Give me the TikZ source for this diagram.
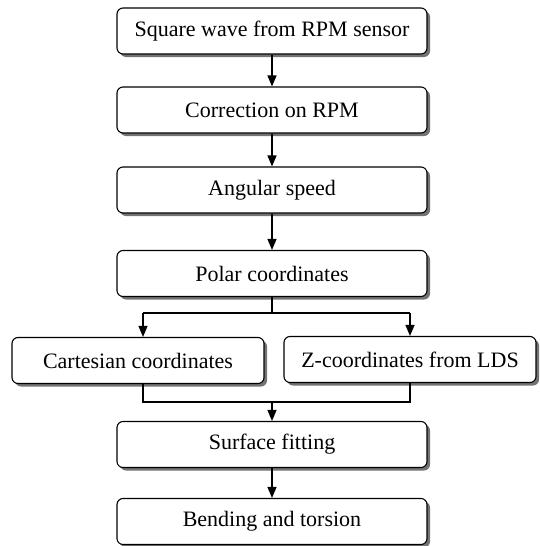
\documentclass[tikz,border=0pt]{standalone}
\usepackage{fontspec}
\setmainfont{Liberation Serif}
\usetikzlibrary{arrows.meta,shadows}
\begin{document}
\begin{tikzpicture}[x=1pt,y=-1pt,
  flowbox/.style={draw=black, line width=1.1pt, rounded corners=6pt, fill=white,
    minimum height=46pt, inner sep=0pt, font=\fontsize{22}{26}\selectfont,
    drop shadow={shadow xshift=3pt, shadow yshift=-3pt, fill=black!55, opacity=1}},
  mainbox/.style={flowbox, minimum width=310pt},
  sidebox/.style={flowbox, minimum width=252pt, minimum height=46pt},
  conn/.style={line width=1.1pt},
  arr/.style={conn, -{Triangle[width=9pt,length=11pt]}}]
\useasboundingbox (0,0) rectangle (539,546);
\node[mainbox] (sq) at (272,31) {Square wave from RPM sensor};
\node[mainbox] (corr) at (272,110) {Correction on RPM};
\node[mainbox] (ang) at (272,190) {Angular speed};
\node[mainbox] (polar) at (272,273.5) {Polar coordinates};
\node[sidebox] (cart) at (138,360.5) {Cartesian coordinates};
\node[sidebox] (zc) at (410,359.5) {Z-coordinates from LDS};
\node[mainbox] (surf) at (272,444.5) {Surface fitting};
\node[mainbox] (bend) at (272,521.5) {Bending and torsion};
\coordinate (split) at (272,313);
\coordinate (sl) at (143,313);
\coordinate (sr) at (410,313);
\coordinate (ml) at (143,402);
\coordinate (mr) at (410,402);
\coordinate (mc) at (272,402);
\draw[arr] (sq) -- (corr);
\draw[arr] (corr) -- (ang);
\draw[arr] (ang) -- (polar);
\draw[conn] (polar.south) -- (split);
\draw[arr] (sl) -- (sl |- cart.north);
\draw[arr] (sr) -- (sr |- zc.north);
\draw[conn] (sl) -- (sr);
\draw[conn] (ml |- cart.south) -- (ml) -- (mr) -- (mr |- zc.south);
\draw[arr] (mc) -- (surf.north);
\draw[arr] (surf) -- (bend);
\end{tikzpicture}
\end{document}
